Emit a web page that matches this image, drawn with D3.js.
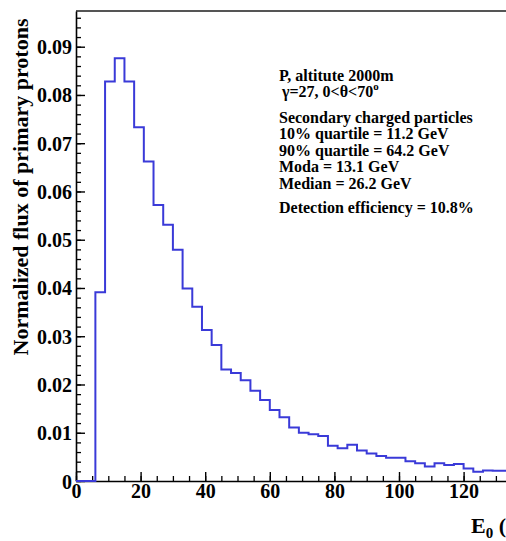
<!DOCTYPE html>
<html>
<head>
<meta charset="utf-8">
<script src="https://cdn.jsdelivr.net/npm/d3@7"></script>
<style>
  body { margin: 0; background: #fff; }
  svg text { font-family: "Liberation Serif", "DejaVu Serif", serif; font-weight: bold; fill: #000; }
</style>
</head>
<body>
<div id="chart"></div>
<script>
// histogram bins (lower edge, GeV) and content, bin width 3 GeV
var binLow = [0, 3, 6, 9, 12, 15, 18, 21, 24, 27, 30, 33, 36, 39, 42, 45, 48, 51, 54, 57,
              60, 63, 66, 69, 72, 75, 78, 81, 84, 87, 90, 93, 96, 99, 102, 105, 108, 111,
              114, 117, 120, 123, 126, 129, 132, 135];
var binFlux = [0, 0, 0.0391, 0.0828, 0.0876, 0.0828, 0.0733, 0.0662, 0.0572, 0.0531,
               0.0479, 0.0399, 0.0361, 0.0313, 0.0282, 0.0231, 0.0224, 0.0209, 0.0187, 0.0168,
               0.0147, 0.0132, 0.0111, 0.0100, 0.0097, 0.0093, 0.0073, 0.0068, 0.0075, 0.0063,
               0.0057, 0.0052, 0.0048, 0.0048, 0.0041, 0.0037, 0.0030, 0.0037, 0.0033, 0.0035,
               0.0026, 0.0019, 0.0022, 0.0021, 0.0021, 0.0020];
var binWidth = 3;

var xTicks = [0, 20, 40, 60, 80, 100, 120];
var yTicks = [0, 0.01, 0.02, 0.03, 0.04, 0.05, 0.06, 0.07, 0.08, 0.09];

var infoLines = ["Secondary charged particles", "10% quartile = 11.2 GeV",
                 "90% quartile = 64.2 GeV", "Moda = 13.1 GeV", "Median = 26.2 GeV"];

// dimensions
var margin = {top: 11, left: 76},
    W = 506, H = 541,
    width = 140 * 3.23,
    height = 470;

var svg = d3.select("#chart")
  .append("svg")
    .attr("width", W)
    .attr("height", H);

var g = svg.append("g")
    .attr("transform", "translate(" + margin.left + "," + margin.top + ")");

var x = d3.scaleLinear().domain([0, 140]).range([0, width]);
var y = d3.scaleLinear().domain([0, 0.0974]).range([height, 0]);

// top frame line
g.append("line")
  .attr("x1", 0).attr("x2", W).attr("y1", 0).attr("y2", 0)
  .attr("stroke", "#555").attr("stroke-width", 2);

// minor ticks
g.append("g")
  .attr("transform", "translate(0," + height + ")")
  .call(d3.axisBottom(x).tickValues(d3.range(0, 141, 5)).tickSize(-5).tickFormat(""))
  .call(function(a) { a.select(".domain").remove(); })
  .selectAll("line").attr("stroke-width", 1.3);
g.append("g")
  .call(d3.axisLeft(y).tickValues(d3.range(0, 0.0961, 0.002)).tickSize(-5).tickFormat(""))
  .call(function(a) { a.select(".domain").remove(); })
  .selectAll("line").attr("stroke-width", 1.3);

// major axes
var xAxis = g.append("g")
  .attr("transform", "translate(0," + height + ")")
  .call(d3.axisBottom(x).tickValues(xTicks).tickSize(-9).tickSizeOuter(0).tickPadding(3));
var yAxis = g.append("g")
  .call(d3.axisLeft(y).tickValues(yTicks).tickSize(-9).tickSizeOuter(0).tickPadding(4)
    .tickFormat(function(d) { return d === 0 ? "0" : d3.format(".2f")(d); }));

[xAxis, yAxis].forEach(function(a) {
  a.select(".domain").attr("stroke-width", 1.6);
  a.selectAll("line").attr("stroke-width", 1.4);
  a.selectAll("text")
    .style("font-family", "Liberation Serif")
    .style("font-weight", "bold")
    .style("font-size", "20px")
    .attr("fill", "#000");
});
yAxis.selectAll("text").attr("dy", "0.35em");

// histogram outline
var pts = [];
binLow.forEach(function(lo, i) {
  pts.push([lo, binFlux[i]]);
  pts.push([lo + binWidth, binFlux[i]]);
});
pts.unshift([0, 0]);

g.append("path")
  .datum(pts)
  .attr("fill", "none")
  .attr("stroke", "#3a3ad8")
  .attr("stroke-width", 2)
  .attr("d", d3.line().x(function(d) { return x(d[0]); }).y(function(d) { return y(d[1]); }));

// y title
svg.append("text")
  .attr("transform", "translate(28,187) rotate(-90)")
  .attr("text-anchor", "middle")
  .style("font-size", "22px")
  .text("Normalized flux of primary protons");

// x title (cut by the right edge, as in the original)
var xt = svg.append("text")
  .attr("x", 471).attr("y", 533)
  .style("font-size", "22px");
xt.append("tspan").text("E");
xt.append("tspan").attr("dy", 5).style("font-size", "15px").text("0");
xt.append("tspan").attr("dy", -5).text(" (GeV)");

// info text
var info = svg.append("g").style("font-size", "16px");
info.append("text").attr("x", 279).attr("y", 81).text("P, altitute 2000m");
var l2 = info.append("text").attr("x", 282).attr("y", 97);
l2.append("tspan").text("\u03b3=27, 0<\u03b8<70");
l2.append("tspan").attr("dy", -7).style("font-size", "11px").text("o");
info.selectAll(".ln")
  .data(infoLines)
  .enter()
  .append("text")
    .attr("class", "ln")
    .attr("x", 279)
    .attr("y", function(d, i) { return 123 + i * 16.4; })
    .text(function(d) { return d; });
info.append("text").attr("x", 279).attr("y", 213).text("Detection efficiency = 10.8%");
</script>
</body>
</html>
